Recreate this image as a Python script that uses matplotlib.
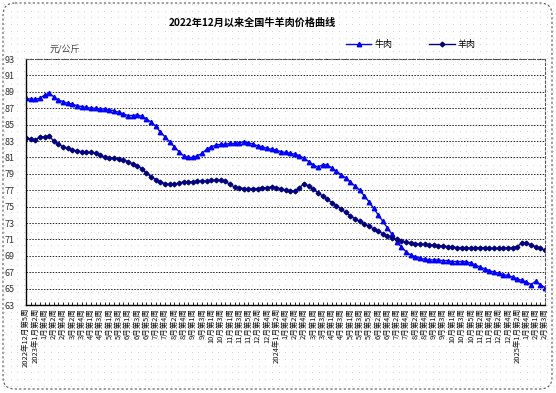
import numpy as np
import matplotlib
matplotlib.use("Agg")
import matplotlib.pyplot as plt
from matplotlib.patches import FancyBboxPatch

plt.rcParams["font.family"] = ["Noto Sans CJK SC", "DejaVu Sans"]

title = "2022年12月以来全国牛羊肉价格曲线"
unit = "元/公斤"
series_names = ["牛肉", "羊肉"]

week_labels = [
    "2022年12月第5周", "2023年1月第2周", "1月第4周", "2月第2周", "2月第4周",
    "3月第2周", "3月第4周", "4月第1周", "4月第3周", "5月第1周", "5月第3周",
    "6月第1周", "6月第3周", "6月第5周", "7月第2周", "7月第4周", "8月第2周",
    "8月第4周", "9月第1周", "9月第3周", "10月第1周", "10月第3周", "11月第1周",
    "11月第3周", "11月第5周", "12月第2周", "12月第4周", "2024年1月第2周",
    "1月第4周", "2月第2周", "2月第4周", "3月第1周", "3月第3周", "4月第1周",
    "4月第3周", "5月第1周", "5月第3周", "5月第5周", "6月第2周", "6月第4周",
    "7月第2周", "7月第4周", "8月第2周", "8月第4周", "9月第1周", "9月第3周",
    "10月第1周", "10月第3周", "10月第5周", "11月第2周", "11月第4周",
    "12月第2周", "12月第4周", "2025年1月第2周", "1月第4周", "2月第1周", "2月第3周",
]

beef = [
    88.2, 88.1, 88.1, 88.2, 88.6, 88.8, 88.4, 88.0, 87.8, 87.6,
    87.5, 87.3, 87.2, 87.1, 87.0, 87.0, 86.9, 86.9, 86.8, 86.7,
    86.5, 86.3, 86.1, 86.1, 86.2, 86.0, 85.7, 85.3, 84.8, 84.1,
    83.5, 82.9, 82.3, 81.7, 81.2, 81.0, 81.0, 81.2, 81.5, 82.0,
    82.3, 82.5, 82.6, 82.6, 82.7, 82.7, 82.8, 82.9, 82.8, 82.6,
    82.4, 82.3, 82.1, 82.0, 81.9, 81.7, 81.6, 81.5, 81.4, 81.2,
    80.9, 80.5, 80.1, 79.8, 80.1, 80.1, 79.7, 79.3, 78.9, 78.5,
    78.0, 77.5, 77.0, 76.3, 75.6, 74.8, 74.0, 73.2, 72.4, 71.6,
    70.7, 70.1, 69.5, 69.1, 68.9, 68.7, 68.6, 68.5, 68.5, 68.5,
    68.4, 68.4, 68.3, 68.3, 68.3, 68.3, 68.1, 67.9, 67.6, 67.4,
    67.2, 67.0, 66.9, 66.7, 66.6, 66.4, 66.2, 66.0, 65.8, 65.5,
    65.9, 65.5, 65.1,
]

mutton = [
    83.4, 83.2, 83.1, 83.5, 83.5, 83.6, 83.0, 82.6, 82.3, 82.1,
    81.9, 81.8, 81.7, 81.6, 81.6, 81.5, 81.3, 81.0, 80.9, 80.9,
    80.8, 80.7, 80.5, 80.2, 80.0, 79.6, 79.1, 78.6, 78.3, 78.0,
    77.8, 77.7, 77.7, 77.9, 78.0, 78.0, 78.0, 78.1, 78.1, 78.1,
    78.2, 78.2, 78.2, 78.1, 77.7, 77.4, 77.3, 77.2, 77.2, 77.2,
    77.2, 77.3, 77.3, 77.4, 77.3, 77.2, 77.0, 76.9, 76.9, 77.3,
    77.8, 77.5, 77.1, 76.7, 76.3, 75.9, 75.5, 75.1, 74.7, 74.3,
    73.9, 73.5, 73.2, 72.9, 72.6, 72.3, 72.0, 71.7, 71.4, 71.2,
    71.0, 70.8, 70.7, 70.6, 70.5, 70.4, 70.4, 70.3, 70.3, 70.2,
    70.2, 70.1, 70.1, 70.0, 70.0, 70.0, 69.9, 70.0, 70.0, 70.0,
    69.9, 69.9, 69.9, 69.9, 70.0, 70.0, 70.1, 70.6, 70.6, 70.3,
    70.1, 69.9, 69.7,
]

y_ticks = list(range(63, 94, 2))

W, H = 556, 393
fig = plt.figure(figsize=(W / 100, H / 100), dpi=100)

# dotted sheet background and rounded dashed frame
bg = fig.add_axes([0, 0, 1, 1], zorder=0)
bg.set_xlim(0, W)
bg.set_ylim(H, 0)
bg.axis("off")
gx, gy = np.meshgrid(np.arange(4, W, 6.7), np.arange(4, H, 6.7))
bg.scatter(gx.ravel(), gy.ravel(), s=0.25, color="#b8b8b8", linewidths=0)
bg.add_patch(FancyBboxPatch((3, 3), W - 7, H - 7, boxstyle="round,pad=0,rounding_size=12",
                            fill=False, ec="#555555", lw=0.8, ls=(0, (2, 2))))

ax = fig.add_axes([26 / W, 1 - 305 / H, (545 - 26) / W, (305 - 59) / H], zorder=1)
ax.patch.set_alpha(0)

x = np.arange(len(beef))
ax.plot(x, beef, color="#0000ff", lw=1.0, marker="^", ms=3.2, mec="#0000ff", mfc="#0000ff",
        label=series_names[0])
ax.plot(x, mutton, color="#000080", lw=1.0, marker="D", ms=2.4, mec="#000080", mfc="#000080",
        label=series_names[1])

ax.set_xlim(0, len(beef) - 1)
ax.set_ylim(63, 93)
ax.set_yticks(y_ticks)
ax.set_yticklabels([str(v) for v in y_ticks], fontsize=6.5, color="#333333")
ax.yaxis.grid(True, color="#222222", lw=0.7, ls=(0, (1.5, 1.5)))
ax.set_axisbelow(True)

ax.set_xticks(np.arange(0, len(beef), 2))
ax.set_xticklabels(week_labels, rotation=90, fontsize=5.4, color="#111111", va="top", ha="center")
ax.set_xticks(x, minor=True)
ax.tick_params(axis="x", which="both", direction="in", length=2, width=0.6, pad=2)
ax.tick_params(axis="y", length=0, pad=8)

ax.spines["left"].set_color("black")
ax.spines["left"].set_linewidth(1.0)
ax.spines["bottom"].set_color("black")
ax.spines["bottom"].set_linewidth(1.0)
for s in ("top", "right"):
    ax.spines[s].set_color("#555555")
    ax.spines[s].set_linewidth(0.8)
    ax.spines[s].set_linestyle((0, (2, 2)))

fig.text(252 / W, 1 - 23 / H, title, ha="center", va="center", fontsize=7.3, fontweight="bold")
fig.text(50 / W, 1 - 50 / H, unit, ha="left", va="center", fontsize=6.5, color="#444444")

ax.legend(loc="upper left", bbox_to_anchor=(346 / W, 1 - 40 / H), bbox_transform=fig.transFigure,
          ncol=2, frameon=False, fontsize=6.5, handlelength=2.8, columnspacing=4.1,
          handletextpad=0.35, borderpad=0, borderaxespad=0)

fig.savefig("out.png", dpi=100)
